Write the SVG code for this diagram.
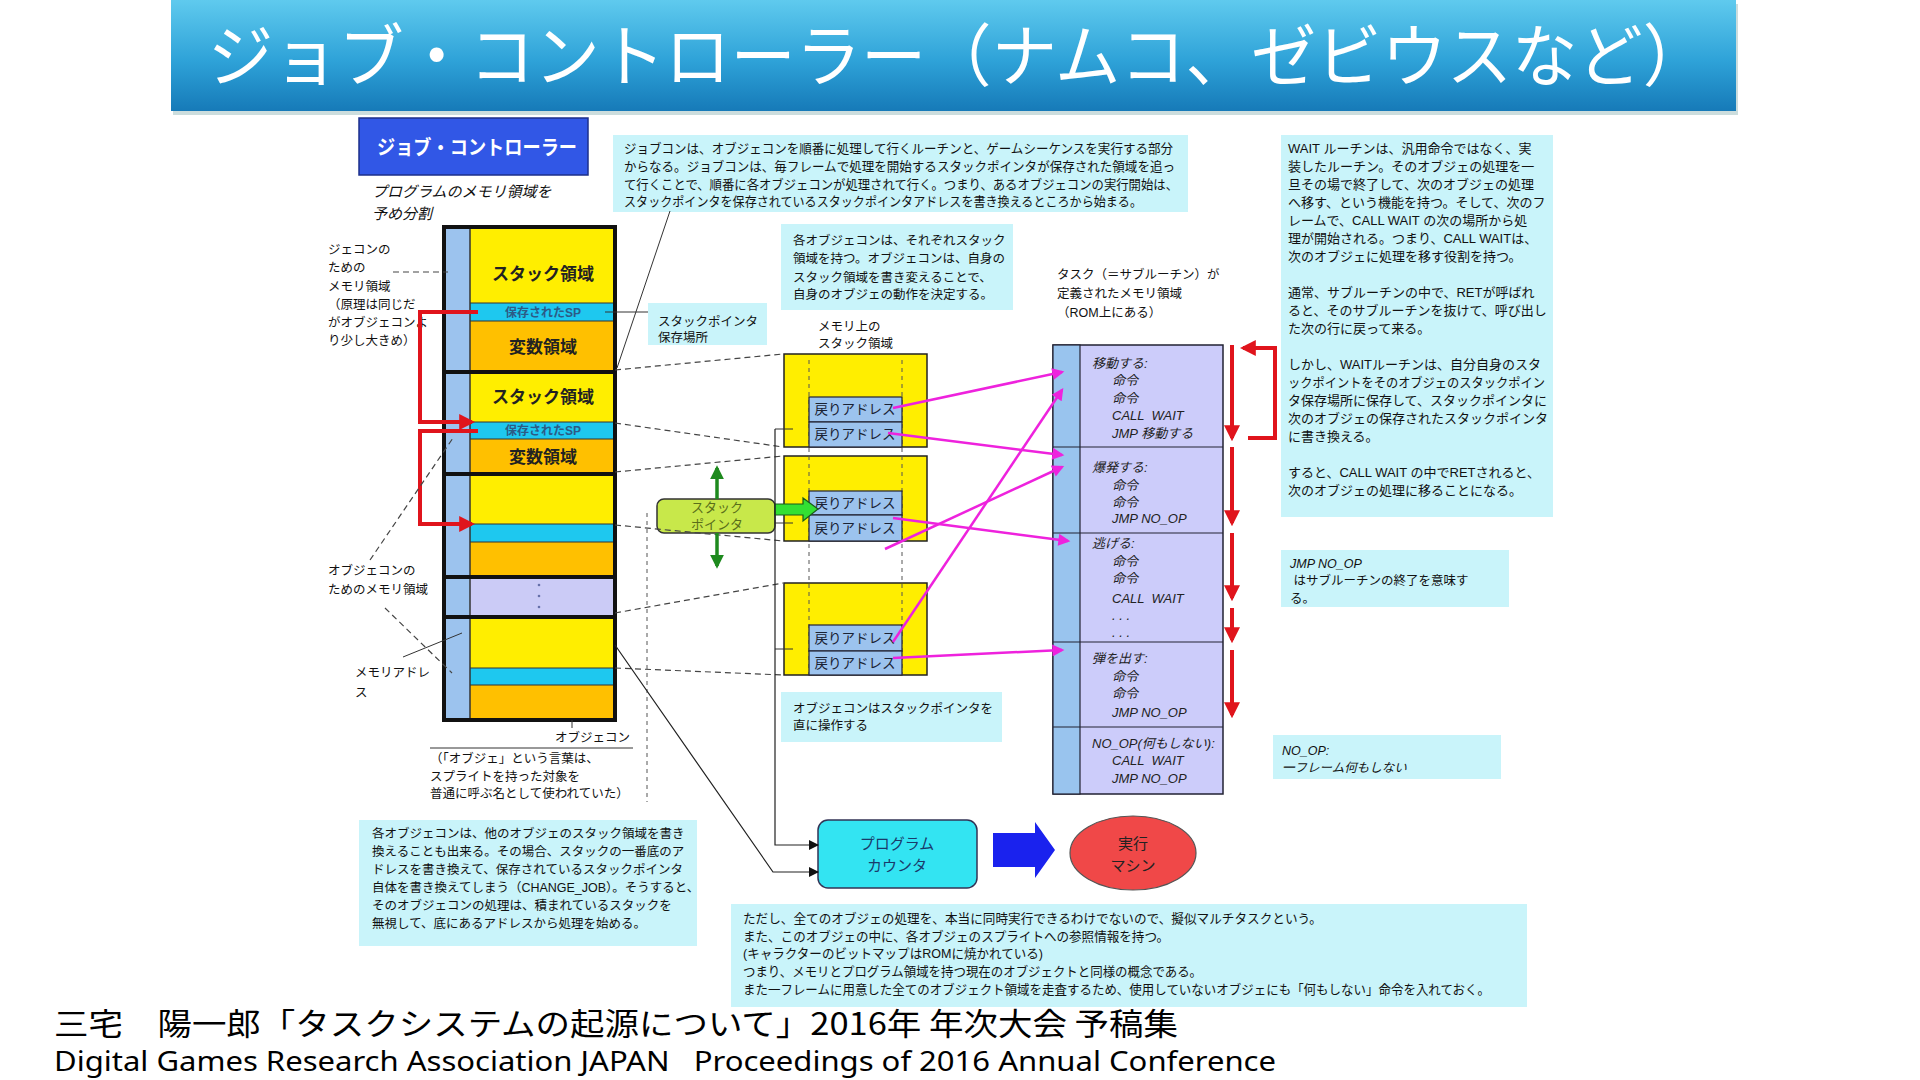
<svg xmlns="http://www.w3.org/2000/svg" width="1920" height="1080" viewBox="0 0 1920 1080">
<style>
text{font-family:"Liberation Sans","Noto Sans CJK JP",sans-serif;fill:#111}
.t{font-size:12.5px}
.t13{font-size:13px}
.it{font-style:italic}
.box{fill:#c9f4fa}
.dash{stroke:#444;stroke-width:1.2;stroke-dasharray:6 4;fill:none}
.vdash{stroke:#555;stroke-width:1;stroke-dasharray:4 4;fill:none}
.thin{stroke:#333;stroke-width:1;fill:none}
.red{stroke:#e0141c;stroke-width:4;fill:none;marker-end:url(#ar)}
.pink{stroke:#ee22dd;stroke-width:2.5;fill:none;marker-end:url(#ap)}
.blk{stroke:#222;stroke-width:1.2;fill:none;marker-end:url(#ab)}
.grn{stroke:#1e8a1e;stroke-width:3.5;fill:none;marker-end:url(#ag)}
.yel{fill:#ffee00}
.cyn{fill:#1ec8ef}
.org{fill:#ffc000}
.bls{fill:#9cc3ee}
.sep{stroke:#333;stroke-width:1}
.thick{stroke:#111;stroke-width:4}
.lbl{font-size:17px;font-weight:bold;text-anchor:middle;fill:#222}
.sp{font-size:12px;font-weight:bold;text-anchor:middle;fill:#2d5b86}
.ret{font-size:13.5px;text-anchor:middle;fill:#1a2233}
.sub{font-size:13px;font-style:italic;fill:#222}
</style>
<defs>
<linearGradient id="tg" x1="0" y1="0" x2="0" y2="1">
<stop offset="0" stop-color="#5fcaee"/>
<stop offset="0.55" stop-color="#2ea2d8"/>
<stop offset="1" stop-color="#167ab8"/>
</linearGradient>
<marker id="ar" viewBox="0 0 10 10" refX="8" refY="5" markerWidth="16" markerHeight="16" markerUnits="userSpaceOnUse" orient="auto"><path d="M0,0 L10,5 L0,10 z" fill="#e0141c"/></marker>
<marker id="ap" viewBox="0 0 10 10" refX="8" refY="5" markerWidth="14" markerHeight="12" markerUnits="userSpaceOnUse" orient="auto"><path d="M0,0 L10,5 L0,10 z" fill="#ee22dd"/></marker>
<marker id="ab" viewBox="0 0 10 10" refX="9" refY="5" markerWidth="11" markerHeight="10" markerUnits="userSpaceOnUse" orient="auto"><path d="M0,0 L10,5 L0,10 z" fill="#111"/></marker>
<marker id="ag" viewBox="0 0 10 10" refX="8" refY="5" markerWidth="14" markerHeight="14" markerUnits="userSpaceOnUse" orient="auto"><path d="M0,0 L10,5 L0,10 z" fill="#1e8a1e"/></marker>
</defs>
<rect width="1920" height="1080" fill="#fff"/>

<g id="title">
<rect x="173" y="4" width="1565" height="111" fill="#9bb" opacity="0.5"/>
<rect x="171" y="0" width="1565" height="111" fill="url(#tg)"/>
<text x="208" y="81" style="font-family:'Noto Sans CJK JP',sans-serif;font-size:68px;fill:#fff" textLength="1500" lengthAdjust="spacingAndGlyphs">ジョブ・コントローラー（ナムコ、ゼビウスなど）</text>
</g>

<g id="jobcon-label">
<rect x="359" y="118" width="229" height="57" fill="#3157e6" stroke="#1c2f8a" stroke-width="1.5"/>
<text x="377" y="155" style="font-size:20px;font-weight:bold;fill:#fff" textLength="200" lengthAdjust="spacingAndGlyphs">ジョブ・コントローラー</text>
<text x="372" y="197" class="it" style="font-size:15px">プログラムのメモリ領域を</text>
<text x="372" y="219" class="it" style="font-size:15px">予め分割</text>
</g>

<g id="memory-column">
<rect class="bls" x="444" y="227" width="26" height="493"/>
<rect class="yel" x="470" y="227" width="145" height="76"/>
<rect class="cyn" x="470" y="303" width="145" height="18"/>
<rect class="org" x="470" y="321" width="145" height="51"/>
<rect class="yel" x="470" y="372" width="145" height="50"/>
<rect class="cyn" x="470" y="422" width="145" height="17"/>
<rect class="org" x="470" y="439" width="145" height="35"/>
<rect class="yel" x="470" y="474" width="145" height="50"/>
<rect class="cyn" x="470" y="524" width="145" height="18"/>
<rect class="org" x="470" y="542" width="145" height="35"/>
<rect x="470" y="577" width="145" height="40" fill="#cbcbf6"/>
<rect class="yel" x="470" y="617" width="145" height="51"/>
<rect class="cyn" x="470" y="668" width="145" height="17"/>
<rect class="org" x="470" y="685" width="145" height="35"/>
<g class="sep">
<line x1="470" y1="303" x2="615" y2="303"/><line x1="470" y1="321" x2="615" y2="321"/>
<line x1="470" y1="422" x2="615" y2="422"/><line x1="470" y1="439" x2="615" y2="439"/>
<line x1="470" y1="524" x2="615" y2="524"/><line x1="470" y1="542" x2="615" y2="542"/>
<line x1="470" y1="668" x2="615" y2="668"/><line x1="470" y1="685" x2="615" y2="685"/>
<line x1="470" y1="227" x2="470" y2="720" stroke-width="1.5"/>
</g>
<g class="thick">
<line x1="444" y1="372" x2="615" y2="372"/><line x1="444" y1="474" x2="615" y2="474"/>
<line x1="444" y1="577" x2="615" y2="577"/><line x1="444" y1="617" x2="615" y2="617"/>
</g>
<rect x="444" y="227" width="171" height="493" fill="none" stroke="#111" stroke-width="4"/>
<text class="lbl" x="543" y="280">スタック領域</text>
<text class="sp" x="543" y="317">保存されたSP</text>
<text class="lbl" x="543" y="353">変数領域</text>
<text class="lbl" x="543" y="403">スタック領域</text>
<text class="sp" x="543" y="435">保存されたSP</text>
<text class="lbl" x="543" y="463">変数領域</text>
<circle cx="539" cy="585" r="1.3" fill="#6670aa"/>
<circle cx="539" cy="596" r="1.3" fill="#6670aa"/>
<circle cx="539" cy="607" r="1.3" fill="#6670aa"/>
</g>

<g id="left-labels">
<text class="t" x="328" y="254">ジェコンの</text>
<text class="t" x="328" y="272">ための</text>
<text class="t" x="328" y="291">メモリ領域</text>
<text class="t" x="328" y="309">（原理は同じだ</text>
<text class="t" x="328" y="327">がオブジェコンよ</text>
<text class="t" x="328" y="345">り少し大きめ）</text>
<text class="t" x="328" y="575">オブジェコンの</text>
<text class="t" x="328" y="594">ためのメモリ領域</text>
<text class="t" x="355" y="677">メモリアドレ</text>
<text class="t" x="355" y="697">ス</text>
<text class="t" x="630" y="742" text-anchor="end">オブジェコン</text>
<text class="t" x="430" y="763">（「オブジェ」という言葉は、</text>
<text class="t" x="430" y="781">スプライトを持った対象を</text>
<text class="t" x="430" y="798">普通に呼ぶ名として使われていた）</text>
</g>

<g id="note-top">
<rect class="box" x="613" y="135" width="575" height="77"/>
<text class="t13" x="624" y="153" textLength="549" lengthAdjust="spacingAndGlyphs">ジョブコンは、オブジェコンを順番に処理して行くルーチンと、ゲームシーケンスを実行する部分</text>
<text class="t13" x="624" y="171" textLength="551" lengthAdjust="spacingAndGlyphs">からなる。ジョブコンは、毎フレームで処理を開始するスタックポインタが保存された領域を追っ</text>
<text class="t13" x="624" y="189" textLength="554" lengthAdjust="spacingAndGlyphs">て行くことで、順番に各オブジェコンが処理されて行く。つまり、あるオブジェコンの実行開始は、</text>
<text class="t13" x="624" y="206" textLength="518" lengthAdjust="spacingAndGlyphs">スタックポインタを保存されているスタックポインタアドレスを書き換えるところから始まる。</text>
</g>

<g id="note-sp">
<rect class="box" x="648" y="303" width="119" height="42"/>
<text class="t" x="658" y="326">スタックポインタ</text>
<text class="t" x="658" y="342">保存場所</text>
</g>

<g id="note-each">
<rect class="box" x="781" y="224" width="232" height="86"/>
<text class="t" x="793" y="245">各オブジェコンは、それぞれスタック</text>
<text class="t" x="793" y="263">領域を持つ。オブジェコンは、自身の</text>
<text class="t" x="793" y="282">スタック領域を書き変えることで、</text>
<text class="t" x="793" y="299">自身のオブジェの動作を決定する。</text>
</g>

<g id="label-stack">
<text class="t" x="818" y="331">メモリ上の</text>
<text class="t" x="818" y="348">スタック領域</text>
</g>

<g id="label-task">
<text class="t" x="1057" y="279">タスク（＝サブルーチン）が</text>
<text class="t" x="1057" y="298">定義されたメモリ領域</text>
<text class="t" x="1057" y="317">（ROM上にある）</text>
</g>

<g id="stack-areas">
<rect x="784" y="354" width="143" height="93" fill="#ffee00" stroke="#222" stroke-width="1.5"/>
<rect x="784" y="456" width="143" height="85" fill="#ffee00" stroke="#222" stroke-width="1.5"/>
<rect x="784" y="583" width="143" height="92" fill="#ffee00" stroke="#222" stroke-width="1.5"/>
<line class="vdash" x1="809" y1="360" x2="809" y2="675"/>
<line class="vdash" x1="902" y1="360" x2="902" y2="675"/>
<g fill="#9cc3ee" stroke="#223" stroke-width="1.2">
<rect x="809" y="397" width="93" height="25"/><rect x="809" y="422" width="93" height="25"/>
<rect x="809" y="491" width="93" height="24"/><rect x="809" y="515" width="93" height="26"/>
<rect x="809" y="625" width="93" height="26"/><rect x="809" y="651" width="93" height="24"/>
</g>
<text class="ret" x="855" y="414">戻りアドレス</text>
<text class="ret" x="855" y="439">戻りアドレス</text>
<text class="ret" x="855" y="508">戻りアドレス</text>
<text class="ret" x="855" y="533">戻りアドレス</text>
<text class="ret" x="855" y="643">戻りアドレス</text>
<text class="ret" x="855" y="668">戻りアドレス</text>
</g>

<g id="stack-pointer">
<rect x="657" y="499" width="118" height="34" rx="7" fill="#c8e84a" stroke="#333" stroke-width="1.5"/>
<text x="717" y="512" text-anchor="middle" style="font-size:13px;fill:#5a6e1a">スタック</text>
<text x="717" y="529" text-anchor="middle" style="font-size:13px;fill:#5a6e1a">ポインタ</text>
<polygon points="775,504 803,504 803,498 818,509 803,521 803,515 775,515" fill="#33e033" stroke="#1a5a1a" stroke-width="1.2"/>
</g>

<g id="note-direct">
<rect class="box" x="781" y="692" width="221" height="50"/>
<text class="t" x="793" y="713">オブジェコンはスタックポインタを</text>
<text class="t" x="793" y="730">直に操作する</text>
</g>

<g id="subroutines">
<rect x="1053" y="345" width="170" height="449" fill="#ccccfa" stroke="#223" stroke-width="1.5"/>
<rect x="1053" y="345" width="27" height="449" fill="#99c4ee" stroke="#223" stroke-width="1.2"/>
<g stroke="#223" stroke-width="1.2">
<line x1="1053" y1="447" x2="1223" y2="447"/><line x1="1053" y1="533" x2="1223" y2="533"/>
<line x1="1053" y1="642" x2="1223" y2="642"/><line x1="1053" y1="727" x2="1223" y2="727"/>
</g>
<text class="sub" x="1092" y="368">移動する:</text>
<text class="sub" x="1112" y="385">命令</text>
<text class="sub" x="1112" y="403">命令</text>
<text class="sub" x="1112" y="420" style="white-space:pre">CALL  WAIT</text>
<text class="sub" x="1112" y="438">JMP 移動する</text>
<text class="sub" x="1092" y="472">爆発する:</text>
<text class="sub" x="1112" y="490">命令</text>
<text class="sub" x="1112" y="507">命令</text>
<text class="sub" x="1112" y="523">JMP NO_OP</text>
<text class="sub" x="1092" y="548">逃げる:</text>
<text class="sub" x="1112" y="566">命令</text>
<text class="sub" x="1112" y="583">命令</text>
<text class="sub" x="1112" y="603" style="white-space:pre">CALL  WAIT</text>
<text class="sub" x="1112" y="620">. . .</text>
<text class="sub" x="1112" y="637">. . .</text>
<text class="sub" x="1092" y="663">弾を出す:</text>
<text class="sub" x="1112" y="681">命令</text>
<text class="sub" x="1112" y="698">命令</text>
<text class="sub" x="1112" y="717">JMP NO_OP</text>
<text class="sub" x="1092" y="748">NO_OP(何もしない):</text>
<text class="sub" x="1112" y="765" style="white-space:pre">CALL  WAIT</text>
<text class="sub" x="1112" y="783">JMP NO_OP</text>
</g>

<g id="note-wait">
<rect class="box" x="1281" y="135" width="272" height="382"/>
<text class="t13" x="1288" y="153">WAIT ルーチンは、汎用命令ではなく、実</text>
<text class="t13" x="1288" y="171">装したルーチン。そのオブジェの処理を一</text>
<text class="t13" x="1288" y="189">旦その場で終了して、次のオブジェの処理</text>
<text class="t13" x="1288" y="207">へ移す、という機能を持つ。そして、次のフ</text>
<text class="t13" x="1288" y="225">レームで、CALL WAIT の次の場所から処</text>
<text class="t13" x="1288" y="243">理が開始される。つまり、CALL WAITは、</text>
<text class="t13" x="1288" y="261">次のオブジェに処理を移す役割を持つ。</text>
<text class="t13" x="1288" y="297">通常、サブルーチンの中で、RETが呼ばれ</text>
<text class="t13" x="1288" y="315">ると、そのサブルーチンを抜けて、呼び出し</text>
<text class="t13" x="1288" y="333">た次の行に戻って来る。</text>
<text class="t13" x="1288" y="369">しかし、WAITルーチンは、自分自身のスタ</text>
<text class="t13" x="1288" y="387" textLength="257" lengthAdjust="spacingAndGlyphs">ックポイントをそのオブジェのスタックポイン</text>
<text class="t13" x="1288" y="405">タ保存場所に保存して、スタックポインタに</text>
<text class="t13" x="1288" y="423">次のオブジェの保存されたスタックポインタ</text>
<text class="t13" x="1288" y="441">に書き換える。</text>
<text class="t13" x="1288" y="477">すると、CALL WAIT の中でRETされると、</text>
<text class="t13" x="1288" y="495">次のオブジェの処理に移ることになる。</text>
</g>

<g id="note-jmp">
<rect class="box" x="1281" y="550" width="228" height="57"/>
<text class="t it" x="1290" y="568">JMP NO_OP</text>
<text class="t" x="1290" y="585" style="white-space:pre"> はサブルーチンの終了を意味す</text>
<text class="t" x="1290" y="603">る。</text>
</g>

<g id="note-noop">
<rect class="box" x="1273" y="735" width="228" height="44"/>
<text class="t it" x="1282" y="755">NO_OP:</text>
<text class="t it" x="1282" y="772">一フレーム何もしない</text>
</g>

<g id="program-counter">
<rect x="818" y="820" width="159" height="68" rx="10" fill="#33e4f2" stroke="#335" stroke-width="1.5"/>
<text x="897" y="849" text-anchor="middle" style="font-size:15px;fill:#1a3a6a">プログラム</text>
<text x="897" y="871" text-anchor="middle" style="font-size:15px;fill:#1a3a6a">カウンタ</text>
</g>

<g id="big-arrow">
<polygon points="993,833 1035,833 1035,822 1055,850 1035,878 1035,867 993,867" fill="#1a22ee"/>
</g>

<g id="exec-machine">
<ellipse cx="1133" cy="853" rx="63" ry="37" fill="#f04848" stroke="#555" stroke-width="1.2"/>
<text x="1133" y="849" text-anchor="middle" style="font-size:15px;fill:#222">実行</text>
<text x="1133" y="871" text-anchor="middle" style="font-size:15px;fill:#222">マシン</text>
</g>

<g id="note-change">
<rect class="box" x="359" y="820" width="338" height="126"/>
<text class="t" x="372" y="838">各オブジェコンは、他のオブジェのスタック領域を書き</text>
<text class="t" x="372" y="856">換えることも出来る。その場合、スタックの一番底のア</text>
<text class="t" x="372" y="874">ドレスを書き換えて、保存されているスタックポインタ</text>
<text class="t" x="372" y="892">自体を書き換えてしまう（CHANGE_JOB）。そうすると、</text>
<text class="t" x="372" y="910">そのオブジェコンの処理は、積まれているスタックを</text>
<text class="t" x="372" y="928">無視して、底にあるアドレスから処理を始める。</text>
</g>

<g id="note-bottom">
<rect class="box" x="731" y="904" width="796" height="103"/>
<text class="t13" x="743" y="923" textLength="579" lengthAdjust="spacingAndGlyphs">ただし、全てのオブジェの処理を、本当に同時実行できるわけでないので、擬似マルチタスクという。</text>
<text class="t13" x="743" y="941" textLength="426" lengthAdjust="spacingAndGlyphs">また、このオブジェの中に、各オブジェのスプライトへの参照情報を持つ。</text>
<text class="t13" x="743" y="958" textLength="300" lengthAdjust="spacingAndGlyphs">(キャラクターのビットマップはROMに焼かれている)</text>
<text class="t13" x="743" y="976" textLength="459" lengthAdjust="spacingAndGlyphs">つまり、メモリとプログラム領域を持つ現在のオブジェクトと同様の概念である。</text>
<text class="t13" x="743" y="994" textLength="747" lengthAdjust="spacingAndGlyphs">また一フレームに用意した全てのオブジェクト領域を走査するため、使用していないオブジェにも「何もしない」命令を入れておく。</text>
</g>

<g id="connectors">
<path class="red" d="M478,312 H420 V422 H472"/>
<path class="red" d="M478,431 H420 V524 H472"/>
<line class="dash" x1="393" y1="272" x2="448" y2="272"/>
<line class="dash" x1="370" y1="560" x2="453" y2="438"/>
<line class="dash" x1="385" y1="608" x2="452" y2="673"/>
<line class="thin" x1="403" y1="657" x2="462" y2="633"/>
<line class="thin" x1="572" y1="720" x2="572" y2="728"/>
<line class="thin" x1="430" y1="748" x2="633" y2="748"/>
<line class="thin" x1="670" y1="211" x2="617" y2="368"/>
<line class="thin" x1="605" y1="312" x2="648" y2="312"/>
<line class="dash" x1="615" y1="370" x2="783" y2="354"/>
<line class="dash" x1="615" y1="423" x2="783" y2="447"/>
<line class="dash" x1="615" y1="472" x2="783" y2="456"/>
<line class="dash" x1="615" y1="525" x2="783" y2="541"/>
<line class="dash" x1="615" y1="613" x2="783" y2="583"/>
<line class="dash" x1="615" y1="668" x2="783" y2="675"/>
<line class="vdash" x1="647" y1="513" x2="647" y2="802"/>
<path class="thin" d="M775,429 H793 M775,523 H793 M775,649 H793"/>
<path class="blk" d="M775,429 V845 H818"/>
<path class="blk" d="M615,645 L773,872 H818"/>
<line class="grn" x1="717" y1="499" x2="717" y2="468"/>
<line class="grn" x1="717" y1="533" x2="717" y2="566"/>
<line class="pink" x1="893" y1="408" x2="1062" y2="372"/>
<line class="pink" x1="893" y1="642" x2="1062" y2="390"/>
<line class="pink" x1="888" y1="433" x2="1062" y2="455"/>
<line class="pink" x1="885" y1="549" x2="1062" y2="467"/>
<line class="pink" x1="893" y1="518" x2="1068" y2="541"/>
<line class="pink" x1="893" y1="658" x2="1062" y2="650"/>
<line class="red" x1="1232" y1="345" x2="1232" y2="438"/>
<line class="red" x1="1232" y1="447" x2="1232" y2="523"/>
<line class="red" x1="1232" y1="533" x2="1232" y2="598"/>
<line class="red" x1="1232" y1="608" x2="1232" y2="640"/>
<line class="red" x1="1232" y1="650" x2="1232" y2="715"/>
<path class="red" d="M1248,438 H1275 V348 H1243"/>
</g>

<g id="footer">
<text x="54" y="1035" style="font-family:'Noto Sans CJK JP',sans-serif;font-size:31px;fill:#000" textLength="1124" lengthAdjust="spacingAndGlyphs">三宅　陽一郎「タスクシステムの起源について」2016年 年次大会 予稿集</text>
<text x="54" y="1071" style="font-family:'Noto Sans',sans-serif;font-size:28px;fill:#000;white-space:pre" textLength="1222" lengthAdjust="spacingAndGlyphs">Digital Games Research Association JAPAN   Proceedings of 2016 Annual Conference</text>
</g>
</svg>
